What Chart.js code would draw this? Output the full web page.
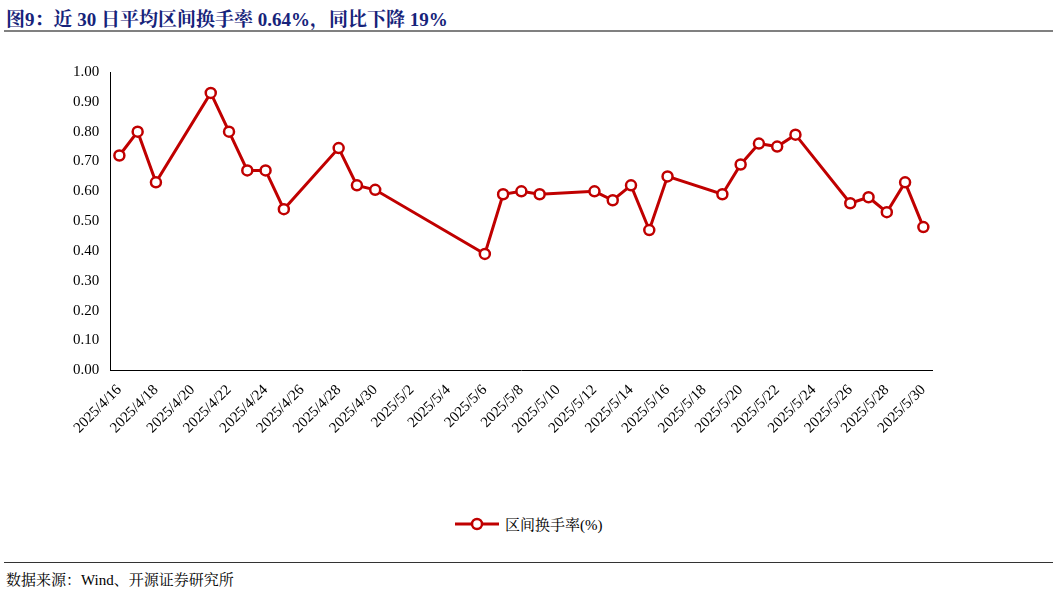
<!DOCTYPE html>
<html><head><meta charset="utf-8">
<script src="https://cdn.jsdelivr.net/npm/chart.js@4"></script>
<style>
body{margin:0;width:1057px;height:592px;background:#fff;position:relative;overflow:hidden;font-family:"Liberation Serif","Noto Serif CJK SC","Noto Sans CJK SC",serif}
#title{position:absolute;left:6px;top:4px;font-size:19px;font-weight:bold;color:#16237a;white-space:nowrap}
#l1{position:absolute;left:4px;right:4px;top:30px;height:2px;background:#808080}
#l2{position:absolute;left:4px;right:4px;top:562px;height:1px;background:#333}
#src{position:absolute;left:6px;top:568px;font-size:15px;color:#000}
#c{position:absolute;left:70px;top:60px}
#leg{position:absolute;left:455px;top:513px;font-size:15px;display:flex;align-items:center;gap:6px}
</style></head><body>
<div id="title">图9：近 30 日平均区间换手率 0.64%，同比下降 19%</div>
<div id="l1"></div>
<canvas id="c" width="870" height="380"></canvas>
<div id="leg"><svg width="44" height="20"><line x1="0" y1="10" x2="44" y2="10" stroke="#c00000" stroke-width="3"/><circle cx="22" cy="10" r="5" fill="#fff" stroke="#c00000" stroke-width="2.5"/></svg><span id="legtxt"></span></div>
<div id="l2"></div>
<div id="src">数据来源：Wind、开源证券研究所</div>
<script>
const dates=["2025/4/16","2025/4/17","2025/4/18","2025/4/21","2025/4/22","2025/4/23","2025/4/24","2025/4/25","2025/4/28","2025/4/29","2025/4/30","2025/5/6","2025/5/7","2025/5/8","2025/5/9","2025/5/12","2025/5/13","2025/5/14","2025/5/15","2025/5/16","2025/5/19","2025/5/20","2025/5/21","2025/5/22","2025/5/23","2025/5/26","2025/5/27","2025/5/28","2025/5/29","2025/5/30"];
const turnover=[0.72,0.80,0.63,0.93,0.80,0.67,0.67,0.54,0.745,0.62,0.605,0.39,0.59,0.60,0.59,0.60,0.57,0.62,0.47,0.65,0.59,0.69,0.76,0.75,0.79,0.56,0.58,0.53,0.63,0.48];
const seriesName="区间换手率(%)";
document.getElementById('legtxt').textContent=seriesName;
const labels=[];
const d0=new Date(2025,3,16),d1=new Date(2025,4,30);
for(let d=new Date(d0);d<=d1;d.setDate(d.getDate()+1))labels.push(`${d.getFullYear()}/${d.getMonth()+1}/${d.getDate()}`);
const data=labels.map(l=>{const i=dates.indexOf(l);return i>=0?turnover[i]:null;});
const F='"Liberation Serif","Noto Sans CJK SC",serif';
new Chart(document.getElementById('c'),{type:'line',
data:{labels,datasets:[{label:seriesName,data,spanGaps:true,borderColor:'#c00000',backgroundColor:'#fff',borderWidth:3,pointRadius:5,pointBorderWidth:2.5,pointBackgroundColor:'#fff',pointBorderColor:'#c00000',tension:0}]},
options:{responsive:false,animation:false,
layout:{padding:{left:0,right:0,top:0,bottom:0}},
plugins:{legend:{display:false},tooltip:{enabled:false}},
scales:{
x:{offset:true,grid:{display:false},border:{color:'#000'},ticks:{autoSkip:false,maxRotation:45,minRotation:45,color:'#000',font:{family:F,size:15},callback:(v,i)=>i%2===0?labels[i]:''}},
y:{min:0,max:1,grid:{display:false},border:{color:'#000'},ticks:{stepSize:0.1,color:'#000',font:{family:F,size:15},callback:v=>v.toFixed(2)}}
}}});
</script>
</body></html>
